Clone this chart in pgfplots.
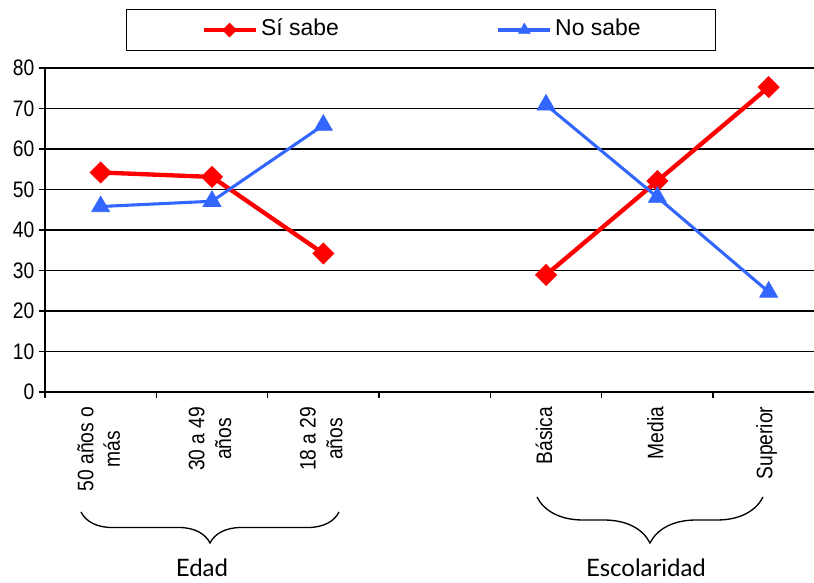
\documentclass[border=0pt]{standalone}
\usepackage{pgfplots}
\pgfplotsset{compat=1.18}
\usepackage{fontspec}
\setmainfont{Liberation Sans}
\newfontfamily\tickfont[FakeStretch=0.86]{Liberation Sans}
\newfontfamily\bracefont{Lato}
\usetikzlibrary{decorations.pathreplacing}
\definecolor{sired}{RGB}{255,0,0}
\definecolor{noblue}{RGB}{51,102,255}
\begin{document}
\begin{tikzpicture}
\begin{axis}[
  scale only axis, width=576.75pt, height=243pt,
  xmin=-0.5, xmax=6.407, ymin=0, ymax=80,
  axis lines=left, axis line style={-, line width=1.1pt, black},
  x axis line style={line width=1.5pt},
  tick align=outside,
  major tick length=4.5pt,
  tick style={black, line width=1pt},
  ytick={0,10,...,80},
  ymajorgrids, grid style={black, line width=1pt},
  xtick={-0.5,0.5,...,5.5}, xticklabels={},
  extra x ticks={0,1,2,4,5,6},
  extra x tick labels={{50 años o\\más},{30 a 49\\años},{18 a 29\\años},Básica,Media,Superior},
  extra x tick style={major tick length=0pt, tick label style={rotate=90, anchor=east, align=center, xshift=-7.5pt, yshift=1.5pt}},
  ticklabel style={font=\tickfont\fontsize{16.8}{20}\selectfont},
  /pgf/number format/assume math mode=true,
  unbounded coords=jump,
  clip=false,
  legend columns=2,
  legend style={at={(0.489,1.1173)}, anchor=center, draw=black, line width=1pt,
    inner xsep=56pt, inner ysep=7.25pt, font=\fontsize{17.2}{20}\selectfont,
    nodes={inner sep=0pt, text height=12.2pt, text depth=3.6pt},
    /tikz/every odd column/.append style={column sep=2.5pt},
    /tikz/every even column/.append style={column sep=118.5pt}},
  legend image code/.code={\draw[mark repeat=2,mark phase=2,#1,every mark/.append style={scale=0.65}] plot coordinates {(0pt,0pt) (19.5pt,0pt) (39pt,0pt)};},
]
\addplot[color=sired, line width=3.25pt, mark=square*, mark size=5.6pt, mark options={rotate=45, line width=0.5pt}]
  coordinates {(0,54.2) (1,53.1) (2,34.2) (3,nan) (4,28.9) (5,52.1) (6,75.3)};
\addlegendentry{Sí sabe}
\addplot[color=noblue, line width=2.3pt, mark=triangle*, mark size=7.8pt, mark options={line width=0.5pt}]
  coordinates {(0,45.8) (1,47.1) (2,65.9) (3,nan) (4,70.9) (5,48.1) (6,24.7)};
\addlegendentry{No sabe}
\coordinate (O) at (rel axis cs:0,0);
\end{axis}
\draw[line width=1pt, decorate, decoration={brace, mirror, amplitude=23.25pt}]
  ([shift={(27pt,-90pt)}]O) -- ([shift={(220.5pt,-90pt)}]O);
\draw[line width=1pt, decorate, decoration={brace, mirror, amplitude=34.5pt}]
  ([shift={(369pt,-78.75pt)}]O) -- ([shift={(538.5pt,-78.75pt)}]O);
\node[font=\bracefont\fontsize{18}{20}\selectfont] at ([shift={(117.75pt,-132pt)}]O) {Edad};
\node[font=\bracefont\fontsize{18}{20}\selectfont] at ([shift={(450.75pt,-132pt)}]O) {Escolaridad};
\pgfresetboundingbox
\useasboundingbox ([shift={(-33.75pt,-142.5pt)}]O) rectangle ++(610.5pt,436.5pt);
\end{tikzpicture}
\end{document}
